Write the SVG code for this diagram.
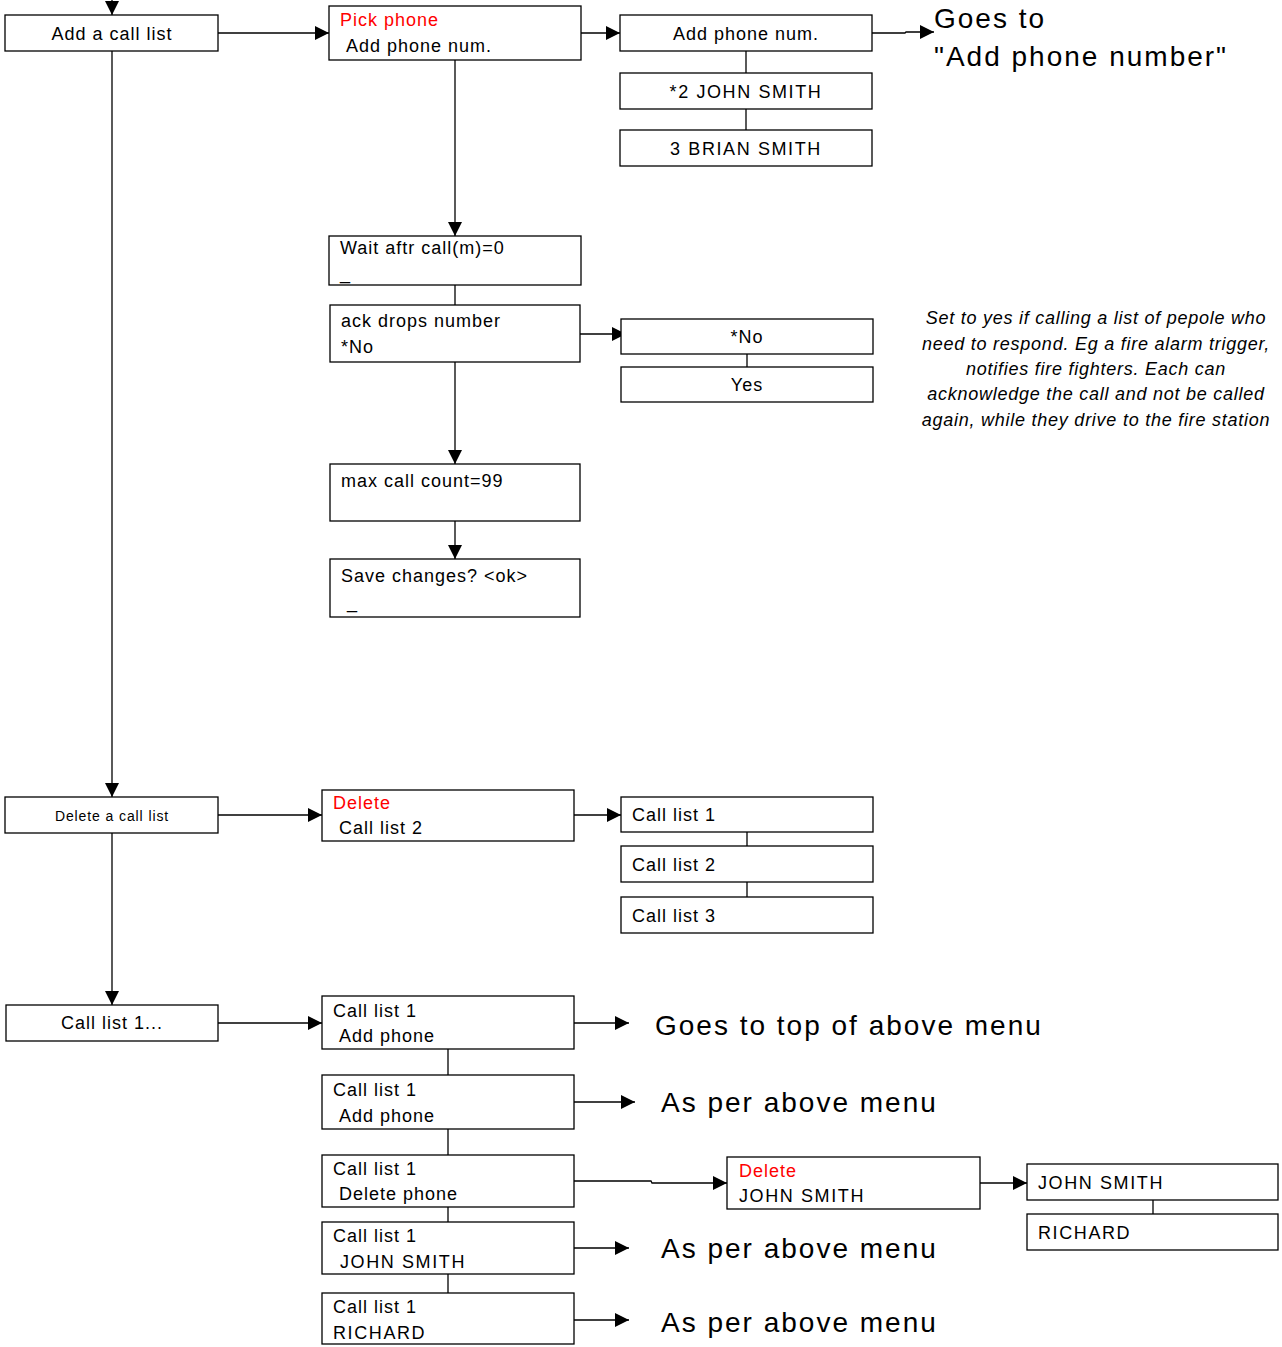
<svg xmlns="http://www.w3.org/2000/svg" width="1282" height="1347" viewBox="0 0 1282 1347">
  <style>
    .box { fill: #fff; stroke: #000; stroke-width: 1.3; }
    .ln { fill: none; stroke: #000; stroke-width: 1.3; }
    .arr { fill: none; stroke: #000; stroke-width: 1.3; marker-end: url(#ah); }
    text { font-family: "Liberation Sans", Arial, sans-serif; fill: #000; }
    .t { font-size: 18px; letter-spacing: 1px; }
    .caps { letter-spacing: 1.6px; }
    .c { text-anchor: middle; }
    .red { fill: #f00; }
    .sm { font-size: 14px; letter-spacing: 0.9px; }
    .big { font-size: 28px; letter-spacing: 2px; }
    .note { font-size: 18px; font-style: italic; letter-spacing: 0.75px; text-anchor: middle; }
  </style>
  <defs>
    <marker id="ah" markerUnits="userSpaceOnUse" markerWidth="15" markerHeight="15" refX="14" refY="7" orient="auto">
      <path d="M0,0 L14,7 L0,14 Z" fill="#000"/>
    </marker>
  </defs>
  <rect width="1282" height="1347" fill="#fff"/>

  <!-- connectors -->
  <g id="connectors">
    <line class="arr" x1="112" y1="0" x2="112" y2="15"/>
    <line class="arr" x1="218" y1="33" x2="329" y2="33"/>
    <line class="arr" x1="581" y1="33" x2="620" y2="33"/>
    <polyline class="arr" points="872,33 905,33 906,32 934,32"/>
    <line class="ln" x1="746" y1="51" x2="746" y2="73"/>
    <line class="ln" x1="746" y1="109" x2="746" y2="130"/>
    <line class="arr" x1="455" y1="60" x2="455" y2="236"/>
    <line class="ln" x1="455" y1="285" x2="455" y2="305"/>
    <line class="arr" x1="580" y1="334" x2="626" y2="334"/>
    <line class="ln" x1="747" y1="354" x2="747" y2="367"/>
    <line class="arr" x1="455" y1="362" x2="455" y2="464"/>
    <line class="arr" x1="455" y1="521" x2="455" y2="559"/>
    <line class="arr" x1="112" y1="51" x2="112" y2="797"/>
    <line class="arr" x1="218" y1="815" x2="322" y2="815"/>
    <line class="arr" x1="574" y1="815" x2="621" y2="815"/>
    <line class="ln" x1="747" y1="832" x2="747" y2="846"/>
    <line class="ln" x1="747" y1="882" x2="747" y2="897"/>
    <line class="arr" x1="112" y1="833" x2="112" y2="1005"/>
    <line class="arr" x1="218" y1="1023" x2="322" y2="1023"/>
    <line class="ln" x1="448" y1="1049" x2="448" y2="1075"/>
    <line class="ln" x1="448" y1="1129" x2="448" y2="1155"/>
    <line class="ln" x1="448" y1="1207" x2="448" y2="1222"/>
    <line class="ln" x1="448" y1="1274" x2="448" y2="1293"/>
    <line class="arr" x1="574" y1="1023" x2="629" y2="1023"/>
    <line class="arr" x1="574" y1="1102" x2="635" y2="1102"/>
    <polyline class="arr" points="574,1181 651,1181 652,1183 727,1183"/>
    <line class="arr" x1="980" y1="1183" x2="1027" y2="1183"/>
    <line class="ln" x1="1153" y1="1200" x2="1153" y2="1214"/>
    <line class="arr" x1="574" y1="1248" x2="629" y2="1248"/>
    <line class="arr" x1="574" y1="1320" x2="629" y2="1320"/>
  </g>

  <!-- add call list branch -->
  <g id="add-call-list">
    <rect class="box" x="5" y="15" width="213" height="36"/>
    <text class="t c" x="112" y="40">Add a call list</text>
  </g>
  <g id="pick-phone">
    <rect class="box" x="329" y="6" width="252" height="54"/>
    <text class="t red" x="340" y="26">Pick phone</text>
    <text class="t" x="346" y="52">Add phone num.</text>
  </g>
  <g id="opt-add-phone">
    <rect class="box" x="620" y="15" width="252" height="36"/>
    <text class="t c" x="746" y="40">Add phone num.</text>
  </g>
  <g id="opt-john">
    <rect class="box" x="620" y="73" width="252" height="36"/>
    <text class="t caps c" x="746" y="98">*2 JOHN SMITH</text>
  </g>
  <g id="opt-brian">
    <rect class="box" x="620" y="130" width="252" height="36"/>
    <text class="t caps c" x="746" y="155">3 BRIAN SMITH</text>
  </g>
  <g id="goes-to-add">
    <text class="big" x="934" y="28">Goes to</text>
    <text class="big" x="934" y="66">"Add phone number"</text>
  </g>
  <g id="wait-after">
    <rect class="box" x="329" y="236" width="252" height="49"/>
    <text class="t" x="340" y="254">Wait aftr call(m)=0</text>
    <text class="t" x="340" y="279">_</text>
  </g>
  <g id="ack-drops">
    <rect class="box" x="330" y="305" width="250" height="57"/>
    <text class="t" x="341" y="327">ack drops number</text>
    <text class="t" x="341" y="353">*No</text>
  </g>
  <g id="opt-no">
    <rect class="box" x="621" y="319" width="252" height="35"/>
    <text class="t c" x="747" y="343">*No</text>
  </g>
  <g id="opt-yes">
    <rect class="box" x="621" y="367" width="252" height="35"/>
    <text class="t c" x="747" y="391">Yes</text>
  </g>
  <g id="ack-note">
    <text class="note" x="1096" y="324">Set to yes if calling a list of pepole who</text>
    <text class="note" x="1096" y="350">need to respond. Eg a fire alarm trigger,</text>
    <text class="note" x="1096" y="375">notifies fire fighters. Each can</text>
    <text class="note" x="1096" y="400">acknowledge the call and not be called</text>
    <text class="note" x="1096" y="426">again, while they drive to the fire station</text>
  </g>
  <g id="max-call">
    <rect class="box" x="330" y="464" width="250" height="57"/>
    <text class="t" x="341" y="487">max call count=99</text>
  </g>
  <g id="save-changes">
    <rect class="box" x="330" y="559" width="250" height="58"/>
    <text class="t" x="341" y="582">Save changes? &lt;ok&gt;</text>
    <text class="t" x="347" y="608">_</text>
  </g>

  <!-- delete call list branch -->
  <g id="delete-call-list">
    <rect class="box" x="5" y="797" width="213" height="36"/>
    <text class="sm c" x="112" y="821">Delete a call list</text>
  </g>
  <g id="delete-list2">
    <rect class="box" x="322" y="790" width="252" height="51"/>
    <text class="t red" x="333" y="809">Delete</text>
    <text class="t" x="339" y="834">Call list 2</text>
  </g>
  <g id="list1">
    <rect class="box" x="621" y="797" width="252" height="35"/>
    <text class="t" x="632" y="821">Call list 1</text>
  </g>
  <g id="list2">
    <rect class="box" x="621" y="846" width="252" height="36"/>
    <text class="t" x="632" y="871">Call list 2</text>
  </g>
  <g id="list3">
    <rect class="box" x="621" y="897" width="252" height="36"/>
    <text class="t" x="632" y="922">Call list 3</text>
  </g>

  <!-- call list 1 branch -->
  <g id="call-list-1">
    <rect class="box" x="6" y="1005" width="212" height="36"/>
    <text class="t c" x="112" y="1029">Call list 1...</text>
  </g>
  <g id="cl1-add-a">
    <rect class="box" x="322" y="996" width="252" height="53"/>
    <text class="t" x="333" y="1017">Call list 1</text>
    <text class="t" x="339" y="1042">Add phone</text>
  </g>
  <g id="cl1-add-b">
    <rect class="box" x="322" y="1075" width="252" height="54"/>
    <text class="t" x="333" y="1096">Call list 1</text>
    <text class="t" x="339" y="1122">Add phone</text>
  </g>
  <g id="cl1-delete">
    <rect class="box" x="322" y="1155" width="252" height="52"/>
    <text class="t" x="333" y="1175">Call list 1</text>
    <text class="t" x="339" y="1200">Delete phone</text>
  </g>
  <g id="cl1-john">
    <rect class="box" x="322" y="1222" width="252" height="52"/>
    <text class="t" x="333" y="1242">Call list 1</text>
    <text class="t caps" x="340" y="1268">JOHN SMITH</text>
  </g>
  <g id="cl1-richard">
    <rect class="box" x="322" y="1293" width="252" height="51"/>
    <text class="t" x="333" y="1313">Call list 1</text>
    <text class="t caps" x="333" y="1339">RICHARD</text>
  </g>
  <g id="goes-top">
    <text class="big" x="655" y="1035">Goes to top of above menu</text>
  </g>
  <g id="as-per-1">
    <text class="big" x="661" y="1112">As per above menu</text>
  </g>
  <g id="delete-john">
    <rect class="box" x="727" y="1157" width="253" height="52"/>
    <text class="t red" x="739" y="1177">Delete</text>
    <text class="t caps" x="739" y="1202">JOHN SMITH</text>
  </g>
  <g id="pick-john">
    <rect class="box" x="1027" y="1164" width="251" height="36"/>
    <text class="t caps" x="1038" y="1189">JOHN SMITH</text>
  </g>
  <g id="pick-richard">
    <rect class="box" x="1027" y="1214" width="251" height="36"/>
    <text class="t caps" x="1038" y="1239">RICHARD</text>
  </g>
  <g id="as-per-2">
    <text class="big" x="661" y="1258">As per above menu</text>
  </g>
  <g id="as-per-3">
    <text class="big" x="661" y="1332">As per above menu</text>
  </g>
</svg>
